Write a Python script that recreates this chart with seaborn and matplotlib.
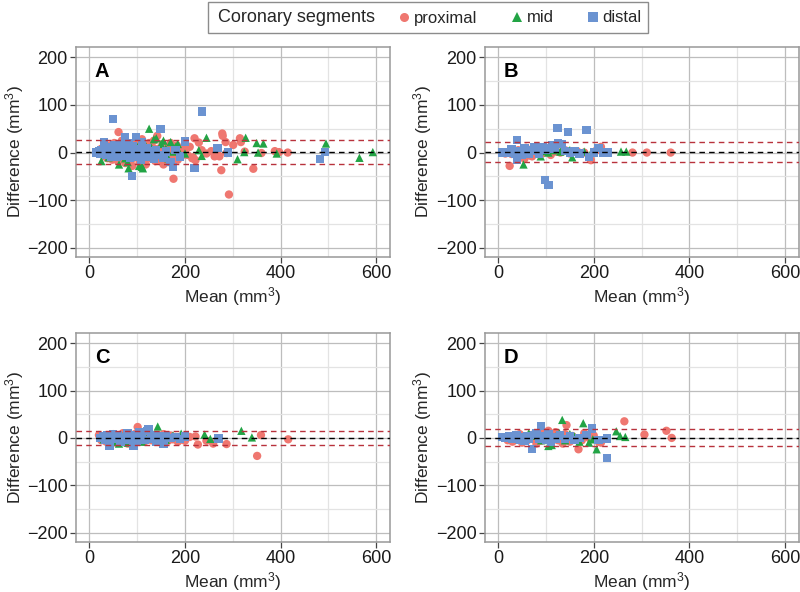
import numpy as np
import pandas as pd
import matplotlib
matplotlib.use("Agg")
import matplotlib.pyplot as plt
from matplotlib.lines import Line2D
from matplotlib.patches import Rectangle
from matplotlib.ticker import MultipleLocator
import seaborn as sns

# ---- data ----
# Panel A
a_prox_x = [18, 22, 25, 28, 30, 32, 35, 38, 40, 42, 45, 48, 50, 52, 55, 58, 60, 61, 63, 65, 68, 70, 72, 75, 78, 80,
            82, 85, 88, 90, 92, 95, 98, 100, 103, 105, 108, 110, 112, 115, 118, 120, 123, 125, 128, 130, 133, 135,
            138, 140, 142, 145, 148, 150, 153, 155, 158, 160, 163, 165, 168, 170, 172, 176, 178, 180, 183, 185, 188,
            192, 195, 200, 205, 210, 215, 217, 220, 222, 229, 235, 245, 255, 262, 268, 272, 276, 278, 279, 285, 287,
            292, 301, 315, 317, 325, 343, 360, 388, 397, 415]
a_prox_y = [3, -2, 8, -5, 12, -8, 2, -12, 5, 15, -3, -15, 8, 20, -6, 0, -18, 43, 10, -10, 25, -4, 5, -22, 14, -8,
            2, 18, -14, -28, 6, -2, 22, -10, 12, -20, 4, 28, -6, 8, -25, 15, -3, 20, -12, 2, 10, 25,
            -18, -5, 35, 8, -15, 0, 18, -25, 5, -8, 12, -20, 3, 20, -10, -55, 8, -5, 15, -15, 2,
            -8, 10, 0, -5, 12, -12, -10, 30, -16, 21, 5, -2, 3, -8, -3, -8, -37, 40, 35, 22, -1,
            -88, 16, 30, 22, 2, -34, -1, 3, 1, 0]
a_mid_x = [25, 40, 55, 62, 70, 75, 80, 82, 88, 95, 100, 104, 110, 112, 115, 120, 125, 130, 135, 140, 145, 150, 155,
           160, 165, 170, 175, 180, 185, 190, 200, 229, 235, 245, 310, 324, 327, 350, 353, 364, 392, 495, 565, 593]
a_mid_y = [-18, -10, 5, -25, 15, -12, -20, -33, 8, -8, 12, -28, -30, -33, 20, -5, 50, 10, 28, 30, -5, 18, 25,
           8, -12, 22, 2, 12, 18, -3, -2, 5, -7, 31, -14, 1, 31, 20, 0, 19, -2, 19, -11, 1]
a_dist_x = [15, 20, 22, 25, 28, 30, 32, 35, 38, 40, 42, 45, 48, 49, 50, 52, 55, 58, 60, 62, 65, 68, 70, 72, 75, 78,
            80, 82, 85, 88, 89, 90, 92, 95, 97, 100, 105, 108, 110, 115, 120, 125, 130, 135, 140, 145, 149, 155,
            160, 170, 175, 180, 190, 200, 220, 235, 268, 290, 483, 493]
a_dist_y = [0, 2, -3, 5, -2, 22, 10, -5, 3, 0, 12, -8, 6, 70, -2, 15, 4, -10, 8, -3, 2, 18, -6, 10, 32, -4,
            5, 20, -12, 0, -49, 14, -2, 8, 33, -8, 5, -15, 22, 0, 10, -10, 3, -14, 6, -5, 50, -12,
            2, -20, -30, 5, -8, 23, -32, 86, 10, 0, -13, 1]

# Panel B
b_prox_x = [15, 20, 24, 28, 32, 36, 42, 48, 50, 55, 58, 62, 66, 71, 75, 80, 85, 92, 100, 110, 120, 130, 140, 150,
            165, 180, 194, 205, 215, 281, 311, 361]
b_prox_y = [-2, 1, -28, -3, 3, 0, 5, 2, -2, -13, 10, 4, -6, -8, 6, 8, 3, -2, 5, -5, 2, 0, 5, -2,
            3, 0, -16, 4, 12, 0, 0, 0]
b_mid_x = [53, 60, 89, 95, 105, 115, 130, 150, 155, 160, 180, 195, 257, 268]
b_mid_y = [-25, 2, -8, 3, 0, 5, 2, 5, -10, 3, 2, 1, 2, 2]
b_dist_x = [8, 20, 28, 35, 39, 39, 45, 50, 55, 60, 65, 70, 75, 80, 85, 90, 93, 98, 100, 105, 108, 112, 118, 124,
            125, 134, 140, 146, 150, 160, 170, 185, 190, 200, 210, 220, 230]
b_dist_y = [0, 0, 8, -3, 27, -16, 2, -5, 10, 0, -3, 5, 12, 3, -2, 8, 12, -58, 5, -68, 10, 15, 8, 52,
            20, 18, 3, 43, 0, 2, -2, 48, -10, 0, 10, 0, 0]

# Panel C
c_prox_x = [20, 25, 30, 35, 40, 45, 50, 55, 60, 65, 70, 75, 80, 85, 90, 95, 101, 105, 110, 115, 120, 125, 130,
            140, 150, 155, 160, 165, 170, 175, 180, 185, 190, 200, 210, 222, 227, 245, 259, 287, 351, 359, 416]
c_prox_y = [6, -5, 2, -8, 4, -3, 8, -10, 3, -5, 10, 0, -12, 5, -4, 8, 23, -2, 6, -8, 2, 12, -5,
            4, -2, 8, 0, -6, 5, -3, 2, -8, -4, -6, 2, 3, -14, -6, -12, -13, -38, 6, -3]
c_mid_x = [30, 45, 55, 62, 70, 80, 90, 100, 110, 115, 120, 130, 143, 150, 160, 175, 192, 241, 253, 318, 340]
c_mid_y = [-3, 5, -8, -12, 3, -10, 2, 10, -8, 6, 15, 10, 24, 3, -4, 5, 9, 7, -2, 15, 1]
c_dist_x = [22, 28, 32, 38, 42, 45, 50, 55, 60, 65, 70, 75, 80, 85, 92, 95, 100, 105, 110, 115, 120, 124, 130,
            135, 140, 145, 150, 155, 160, 170, 180, 190, 200, 270]
c_dist_y = [0, 3, -5, 6, -17, 0, 8, -3, 5, -8, 2, -4, 10, 0, -17, 5, -6, 12, 2, -5, 14, 19, -2,
            5, -8, 3, -6, -12, 4, 0, 2, -3, 3, -1]

# Panel D
d_prox_x = [20, 25, 30, 35, 40, 45, 50, 55, 60, 65, 70, 75, 80, 85, 90, 95, 100, 105, 110, 115, 120, 125, 130,
            135, 140, 143, 150, 155, 160, 168, 175, 180, 190, 200, 210, 215, 264, 306, 352, 363]
d_prox_y = [-5, 2, -8, 5, -3, 8, -10, 0, -6, 4, -2, 8, -12, 3, -6, 10, -2, 15, -8, 5, 12, -5, 0,
            -12, 8, 27, -8, 4, -3, -24, -5, 10, 0, 5, -8, -10, 35, 7, 15, 0]
d_mid_x = [45, 64, 75, 90, 100, 105, 112, 120, 128, 134, 140, 150, 160, 170, 178, 190, 198, 206, 247, 255, 266]
d_mid_y = [-3, 10, 5, -5, 8, -17, -15, 3, 10, 38, -5, 8, 3, -8, 31, -10, -3, -24, 14, 4, 2]
d_dist_x = [8, 15, 22, 30, 38, 45, 50, 55, 60, 65, 71, 75, 80, 85, 89, 95, 100, 105, 110, 115, 120, 130, 140,
            150, 160, 170, 185, 196, 210, 227, 228]
d_dist_y = [2, 0, 3, -2, 5, -4, 2, -6, 4, -3, -24, 6, 10, -2, 25, 3, -5, 8, -8, 2, -3, 5, -2,
            3, -5, 0, 6, 20, -4, -42, -1]

panel_labels = ["A", "B", "C", "D"]
bias = [1.5, 1, 0, 0.5]
upper_loa = [27, 22, 14, 19]
lower_loa = [-23, -20, -14, -18]

segments = ["proximal", "mid", "distal"]
palette = {"proximal": "#EF7770", "mid": "#22A445", "distal": "#6B93D1"}
markers = {"proximal": "o", "mid": "^", "distal": "s"}


def make_frame(px, py, mx, my, dx, dy):
    parts = []
    for seg, xs, ys in zip(segments, [px, mx, dx], [py, my, dy]):
        parts.append(pd.DataFrame({"mean": xs, "diff": ys, "segment": seg}))
    return pd.concat(parts, ignore_index=True)


frames = [
    make_frame(a_prox_x, a_prox_y, a_mid_x, a_mid_y, a_dist_x, a_dist_y),
    make_frame(b_prox_x, b_prox_y, b_mid_x, b_mid_y, b_dist_x, b_dist_y),
    make_frame(c_prox_x, c_prox_y, c_mid_x, c_mid_y, c_dist_x, c_dist_y),
    make_frame(d_prox_x, d_prox_y, d_mid_x, d_mid_y, d_dist_x, d_dist_y),
]

sns.set_theme(style="white")
plt.rcParams["font.family"] = ["Liberation Sans", "DejaVu Sans"]
plt.rcParams["mathtext.fontset"] = "custom"
plt.rcParams["mathtext.rm"] = "Liberation Sans"
plt.rcParams["mathtext.it"] = "Liberation Sans:italic"

W, H = 800, 592
fig = plt.figure(figsize=(W / 100, H / 100), dpi=100)

# axes positions (left, bottom, width, height) in figure fraction
positions = [
    (0.095, 0.566, 0.3925, 0.355),
    (0.606, 0.566, 0.3925, 0.355),
    (0.095, 0.085, 0.3925, 0.353),
    (0.606, 0.085, 0.3925, 0.353),
]

for i, df in enumerate(frames):
    ax = fig.add_axes(positions[i])
    sns.scatterplot(data=df, x="mean", y="diff", hue="segment", style="segment",
                    palette=palette, markers=markers, s=36, linewidth=0,
                    legend=False, ax=ax, zorder=3)
    ax.axhline(bias[i], color="black", ls=(0, (4, 3)), lw=1.0, zorder=4)
    ax.axhline(upper_loa[i], color="#B8323C", ls=(0, (4, 3)), lw=1.0, zorder=4)
    ax.axhline(lower_loa[i], color="#B8323C", ls=(0, (4, 3)), lw=1.0, zorder=4)

    ax.set_xlim(-28, 629)
    ax.set_ylim(-219, 222)
    ax.xaxis.set_major_locator(MultipleLocator(200))
    ax.xaxis.set_minor_locator(MultipleLocator(100))
    ax.yaxis.set_major_locator(MultipleLocator(100))
    ax.yaxis.set_minor_locator(MultipleLocator(50))
    ax.grid(which="major", color="#BDBDBD", lw=0.9, zorder=0)
    ax.grid(which="minor", color="#E3E3E3", lw=0.9, zorder=0)
    ax.set_axisbelow(True)
    ax.tick_params(which="major", direction="out", length=4, width=0.9, color="#444444",
                   labelsize=13, labelcolor="#1A1A1A", pad=2, left=True, bottom=True)
    ax.tick_params(which="minor", length=0)
    for sp in ax.spines.values():
        sp.set_color("#999999")
        sp.set_linewidth(1.1)

    ax.set_xlabel(r"Mean (mm$^3$)", fontsize=12.5, labelpad=2)
    ax.set_ylabel(r"Difference (mm$^3$)", fontsize=12.5, labelpad=1)
    ax.text(0.06, 0.88, panel_labels[i], transform=ax.transAxes, fontsize=14.5,
            fontweight="bold", ha="left", va="center", color="black")

# legend across the top: framed box, title on the left, three keys
box_l, box_r, box_t, box_b = 208, 648, 2, 33
fig.patches.append(Rectangle((box_l / W, 1 - box_b / H), (box_r - box_l) / W, (box_b - box_t) / H,
                             transform=fig.transFigure, facecolor="white",
                             edgecolor="#8C8C8C", linewidth=1.0))
fig.text(218 / W, 1 - 18 / H, "Coronary segments", fontsize=13, ha="left", va="center")
handles = []
for seg in segments:
    handles.append(Line2D([], [], linestyle="none", marker=markers[seg], color=palette[seg],
                          markersize=6.5, markeredgewidth=0))
leg = fig.legend(handles, segments, ncol=3, loc="center left", bbox_to_anchor=(399 / W, 1 - 18 / H),
                 fontsize=12, frameon=False, handlelength=0.6, handletextpad=0.3,
                 columnspacing=2.05, borderpad=0, borderaxespad=0)

fig.savefig("out.png", dpi=100)
